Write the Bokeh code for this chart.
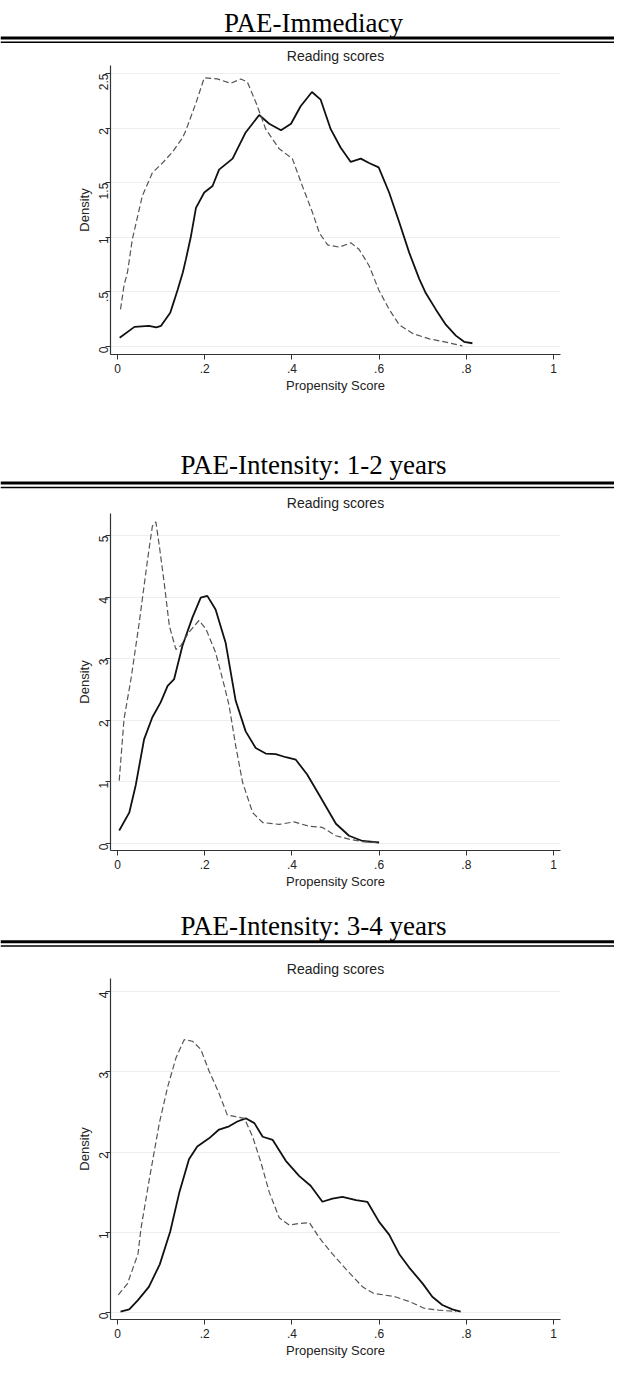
import math
from bokeh.plotting import figure
from bokeh.layouts import column
from bokeh.models import FixedTicker, CustomJSTickFormatter, Span, Label, Range1d
from bokeh.embed import file_html
from bokeh.resources import INLINE

# ---------------- data ----------------
headers = ["PAE-Immediacy", "PAE-Intensity: 1-2 years", "PAE-Intensity: 3-4 years"]
subtitle = "Reading scores"
x_title = "Propensity Score"
y_title = "Density"
x_ticks = [0, 0.2, 0.4, 0.6, 0.8, 1.0]
y_ticks_1 = [0, 0.5, 1, 1.5, 2, 2.5]
y_ticks_2 = [0, 1, 2, 3, 4, 5]
y_ticks_3 = [0, 1, 2, 3, 4]

# Panel 1: PAE-Immediacy
imm_solid_x = [0.005, 0.039, 0.072, 0.089, 0.100, 0.121, 0.130, 0.138, 0.150, 0.157, 0.168, 0.180,
               0.199, 0.218, 0.233, 0.264, 0.294, 0.325, 0.348, 0.375, 0.398, 0.420, 0.446, 0.466,
               0.489, 0.512, 0.535, 0.558, 0.577, 0.599, 0.623, 0.646, 0.669, 0.692, 0.707, 0.730,
               0.753, 0.776, 0.795, 0.814]
imm_solid_y = [0.08, 0.18, 0.19, 0.175, 0.19, 0.31, 0.42, 0.52, 0.68, 0.80, 1.00, 1.27,
               1.41, 1.47, 1.62, 1.72, 1.96, 2.12, 2.04, 1.98, 2.04, 2.20, 2.33, 2.26,
               1.99, 1.82, 1.69, 1.72, 1.68, 1.64, 1.41, 1.14, 0.86, 0.62, 0.49, 0.34,
               0.20, 0.10, 0.043, 0.03]
imm_dash_x = [0.007, 0.015, 0.023, 0.034, 0.057, 0.080, 0.103, 0.126, 0.149, 0.157, 0.180, 0.199,
              0.229, 0.260, 0.283, 0.298, 0.318, 0.340, 0.371, 0.401, 0.424, 0.447, 0.463, 0.482,
              0.509, 0.535, 0.554, 0.577, 0.599, 0.623, 0.646, 0.677, 0.715, 0.753, 0.791]
imm_dash_y = [0.34, 0.56, 0.68, 0.98, 1.38, 1.59, 1.68, 1.78, 1.91, 1.98, 2.23, 2.46,
              2.45, 2.41, 2.45, 2.42, 2.23, 1.99, 1.81, 1.72, 1.47, 1.23, 1.04, 0.93,
              0.91, 0.95, 0.89, 0.74, 0.52, 0.34, 0.20, 0.12, 0.07, 0.04, 0.006]

# Panel 2: PAE-Intensity 1-2 years
i12_solid_x = [0.004, 0.027, 0.042, 0.061, 0.080, 0.099, 0.115, 0.130, 0.149, 0.172, 0.191, 0.206,
               0.225, 0.248, 0.271, 0.294, 0.317, 0.340, 0.363, 0.386, 0.409, 0.435, 0.455, 0.478,
               0.501, 0.531, 0.562, 0.600]
i12_solid_y = [0.21, 0.50, 0.95, 1.69, 2.05, 2.29, 2.56, 2.67, 3.21, 3.67, 3.99, 4.02,
               3.80, 3.26, 2.32, 1.82, 1.55, 1.46, 1.45, 1.40, 1.36, 1.12, 0.88, 0.60,
               0.32, 0.125, 0.04, 0.016]
i12_dash_x = [0.004, 0.015, 0.031, 0.050, 0.069, 0.080, 0.088, 0.096, 0.107, 0.119, 0.134, 0.145,
              0.164, 0.187, 0.203, 0.225, 0.245, 0.256, 0.271, 0.287, 0.310, 0.333, 0.371, 0.405,
              0.439, 0.470, 0.501, 0.531, 0.562, 0.600]
i12_dash_y = [1.02, 2.02, 2.67, 3.59, 4.61, 5.15, 5.22, 4.83, 4.24, 3.53, 3.15, 3.21,
              3.43, 3.62, 3.48, 3.10, 2.56, 2.24, 1.59, 0.99, 0.50, 0.34, 0.31, 0.35,
              0.28, 0.26, 0.125, 0.07, 0.03, 0.016]

# Panel 3: PAE-Intensity 3-4 years
i34_solid_x = [0.007, 0.027, 0.047, 0.072, 0.097, 0.121, 0.142, 0.164, 0.183, 0.210, 0.233, 0.256,
               0.275, 0.294, 0.314, 0.333, 0.356, 0.386, 0.417, 0.443, 0.470, 0.493, 0.516, 0.547,
               0.573, 0.600, 0.623, 0.646, 0.669, 0.700, 0.722, 0.745, 0.768, 0.787]
i34_solid_y = [0.01, 0.04, 0.155, 0.32, 0.60, 1.01, 1.50, 1.91, 2.07, 2.17, 2.28, 2.32,
               2.38, 2.42, 2.36, 2.19, 2.15, 1.89, 1.70, 1.58, 1.38, 1.42, 1.44, 1.40,
               1.38, 1.13, 0.97, 0.73, 0.56, 0.36, 0.196, 0.094, 0.04, 0.012]
i34_dash_x = [0.002, 0.023, 0.047, 0.054, 0.073, 0.096, 0.115, 0.134, 0.153, 0.172, 0.191, 0.210,
              0.233, 0.252, 0.271, 0.291, 0.310, 0.329, 0.348, 0.371, 0.394, 0.417, 0.440, 0.463,
              0.493, 0.524, 0.562, 0.587, 0.637, 0.670, 0.703, 0.736, 0.777]
i34_dash_y = [0.22, 0.36, 0.73, 1.05, 1.66, 2.36, 2.81, 3.17, 3.40, 3.38, 3.28, 3.01,
              2.73, 2.46, 2.44, 2.42, 2.19, 1.87, 1.50, 1.18, 1.09, 1.11, 1.12, 0.93,
              0.73, 0.54, 0.32, 0.24, 0.196, 0.135, 0.053, 0.03, 0.012]

# ---------------- layout / style ----------------
W = 614
HEAD_X = 313          # centre of the table heading (figure px)
SUB_X = 335           # centre of the plot frame (figure px)
SANS = "Liberation Sans"
SERIF = "Liberation Serif"

fmt_code = """
var v = Math.round(tick * 10) / 10;
var s = v.toString();
if (s.indexOf("0.") === 0) { s = s.substring(1); }
return s;
"""


def make_header(text, h, base, thick, thin, sub):
    p = figure(width=W, height=h, x_range=Range1d(0, W), y_range=Range1d(0, h),
               output_backend="svg", toolbar_location=None,
               x_axis_location=None, y_axis_location=None,
               min_border=0, outline_line_color=None, frame_align=False)
    p.grid.visible = False
    p.add_layout(Label(x=HEAD_X, y=base, text=text, text_align="center",
                       text_baseline="alphabetic", text_font=SERIF,
                       text_font_size="27px", text_color="black"))
    p.add_layout(Span(location=thick, dimension="width", line_color="black", line_width=3))
    p.add_layout(Span(location=thin, dimension="width", line_color="black", line_width=1.5))
    p.add_layout(Label(x=SUB_X, y=sub, text=subtitle, text_align="center",
                       text_baseline="middle", text_font=SANS,
                       text_font_size="14px", text_color="#222222"))
    return p


def make_panel(sx, sy, dx, dy, yticks, yr, h, top, bottom):
    p = figure(width=W, height=h, x_range=Range1d(-0.016, 1.016), y_range=Range1d(*yr),
               output_backend="svg", toolbar_location=None,
               min_border_left=110, min_border_right=54,
               min_border_top=top, min_border_bottom=bottom,
               outline_line_color=None, frame_align=False)

    p.line(sx, sy, line_color="#111111", line_width=1.8)
    p.line(dx, dy, line_color="#555555", line_width=1.2, line_dash="6 3")

    p.xaxis.ticker = FixedTicker(ticks=x_ticks)
    p.yaxis.ticker = FixedTicker(ticks=yticks)
    p.xaxis.formatter = CustomJSTickFormatter(code=fmt_code)
    p.yaxis.formatter = CustomJSTickFormatter(code=fmt_code)
    p.xaxis.axis_label = x_title
    p.yaxis.axis_label = y_title
    p.yaxis.major_label_orientation = math.pi / 2
    for ax in (p.xaxis, p.yaxis):
        ax.axis_line_color = "#333333"
        ax.axis_line_width = 1.2
        ax.major_tick_line_color = "#333333"
        ax.major_tick_in = 0
        ax.major_tick_out = 5
        ax.minor_tick_line_color = None
        ax.major_label_text_font = SANS
        ax.major_label_text_font_size = "12px"
        ax.major_label_text_color = "#222222"
        ax.axis_label_text_font = SANS
        ax.axis_label_text_font_size = "13px"
        ax.axis_label_text_font_style = "normal"
        ax.axis_label_text_color = "#222222"
    p.xaxis.major_label_standoff = 4
    p.xaxis.axis_label_standoff = 2
    p.yaxis.major_label_standoff = 2
    p.yaxis.axis_label_standoff = 0
    p.xgrid.visible = False
    p.ygrid.ticker = FixedTicker(ticks=yticks)
    p.ygrid.grid_line_color = "#eeeeee"
    p.ygrid.grid_line_width = 1
    return p


# page rows (heights sum to 1362)
h1 = make_header(headers[0], 64, 42, 26.5, 22.2, 9)
p1 = make_panel(imm_solid_x, imm_solid_y, imm_dash_x, imm_dash_y, y_ticks_1,
                (-0.073, 2.573), 334, 1, 44)
h2 = make_header(headers[1], 114, 48, 29.5, 25, 10)
p2 = make_panel(i12_solid_x, i12_solid_y, i12_dash_x, i12_dash_y, y_ticks_2,
                (-0.114, 5.357), 382, 1, 44)
h3 = make_header(headers[2], 83, 52, 35.7, 31.5, 9)
p3 = make_panel(i34_solid_x, i34_solid_y, i34_dash_x, i34_dash_y, y_ticks_3,
                (-0.087, 4.162), 385, 1, 43)

layout = column(h1, p1, h2, p2, h3, p3, spacing=0)
open("out.html", "w").write(file_html(layout, INLINE))
